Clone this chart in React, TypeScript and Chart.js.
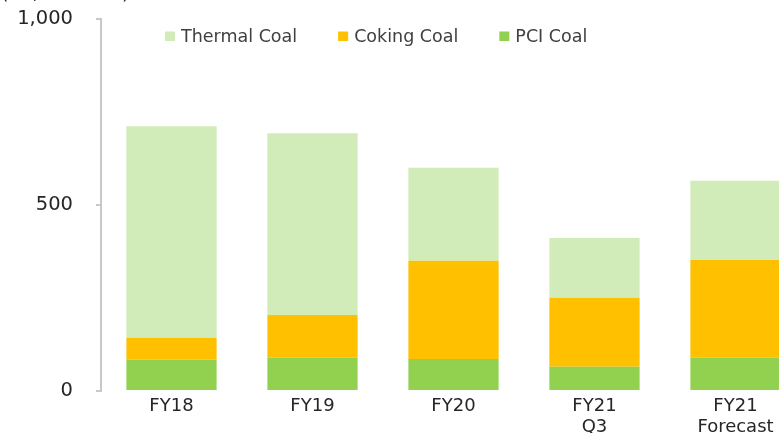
import React, { useEffect, useRef } from "react";
import { Chart, registerables } from "chart.js";

Chart.register(...registerables);

const categories: (string | string[])[] = ["FY18", "FY19", "FY20", ["FY21", "Q3"], ["FY21", "Forecast"]];
const pciCoal = [84, 90, 86, 65, 90];
const cokingCoal = [59, 114, 264, 186, 262];
const thermalCoal = [569, 489, 250, 160, 213];
const seriesNames = ["PCI Coal", "Coking Coal", "Thermal Coal"];
const seriesColors = ["#92d050", "#ffc000", "#d1ebb9"];
const yMin = 0;
const yMax = 1000;
const yStep = 500;
const unitLabel = "(10,000 tons)";

const FONT = "'DejaVu Sans', Verdana, sans-serif";

const floatingLegend = {
  id: "floatingLegend",
  afterDraw(chart: any) {
    const { ctx, chartArea } = chart;
    const items = chart.data.datasets.slice().reverse();
    ctx.save();
    ctx.font = `17.5px ${FONT}`;
    ctx.textBaseline = "middle";
    ctx.textAlign = "left";
    let x = chartArea.left + 64;
    const y = chartArea.top + 17;
    for (const ds of items) {
      ctx.fillStyle = ds.backgroundColor;
      ctx.fillRect(x, y - 4.5, 10, 9.5);
      x += 16;
      ctx.fillStyle = "#404040";
      ctx.fillText(ds.label, x, y + 1);
      x += ctx.measureText(ds.label).width + 41;
    }
    ctx.restore();
  },
};

export default function App() {
  const ref = useRef<HTMLCanvasElement | null>(null);

  useEffect(() => {
    if (!ref.current) return;
    const values = [pciCoal, cokingCoal, thermalCoal];
    const chart = new Chart(ref.current, {
      type: "bar",
      data: {
        labels: categories,
        datasets: values.map((v, i) => ({
          label: seriesNames[i],
          data: v,
          backgroundColor: seriesColors[i],
          borderWidth: 0,
          categoryPercentage: 1,
          barPercentage: 0.64,
        })),
      },
      options: {
        animation: false,
        responsive: false,
        maintainAspectRatio: false,
        layout: { padding: { left: 1, right: 6, top: 0, bottom: 0 } },
        plugins: {
          legend: { display: false },
          tooltip: { enabled: false },
          title: {
            display: true,
            text: unitLabel,
            align: "start",
            color: "#262626",
            font: { family: FONT, size: 19, weight: "normal" },
            padding: { top: 11, bottom: 13.2 },
          },
        },
        scales: {
          x: {
            stacked: true,
            grid: { display: false },
            border: { display: false },
            ticks: {
              color: "#262626",
              font: { family: FONT, size: 18, lineHeight: 1.15 },
              padding: -3,
              maxRotation: 0,
              autoSkip: false,
            },
            afterFit: (s: any) => {
              s.height = 42;
            },
          },
          y: {
            stacked: true,
            min: yMin,
            max: yMax,
            grid: {
              display: true,
              drawOnChartArea: false,
              drawTicks: true,
              tickLength: 5,
              color: "#c8c8c8",
              lineWidth: 2,
            },
            border: { display: true, color: "#c8c8c8", width: 2 },
            ticks: {
              stepSize: yStep,
              color: "#262626",
              font: { family: FONT, size: 19.5 },
              padding: 23,
            },
            afterFit: (s: any) => {
              s.width = 100;
            },
          },
        },
      },
      plugins: [floatingLegend],
    });
    return () => chart.destroy();
  }, []);

  return (
    <div style={{ position: "fixed", left: 0, top: 0, width: 779, height: 433, overflow: "hidden", background: "#fff" }}>
      <div style={{ position: "absolute", left: 0, top: -28, width: 812, height: 461 }}>
        <canvas ref={ref} width={812} height={461} style={{ display: "block" }} />
      </div>
    </div>
  );
}
